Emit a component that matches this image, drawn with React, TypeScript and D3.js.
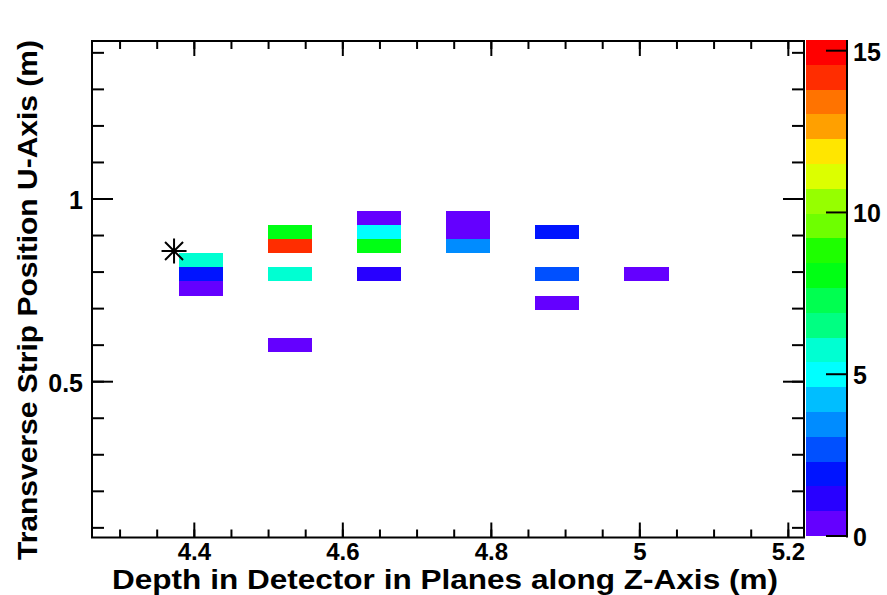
import React from "react";
import * as d3 from "d3";

// Hit strips: plane depth (m), transverse strip position (m), charge
const hitZ = [4.409, 4.409, 4.409, 4.529, 4.529, 4.529, 4.529, 4.649, 4.649, 4.649, 4.649, 4.769, 4.769, 4.769, 4.889, 4.889, 4.889, 5.009];
const hitU = [0.832, 0.794, 0.755, 0.909, 0.871, 0.794, 0.601, 0.948, 0.909, 0.871, 0.794, 0.948, 0.909, 0.871, 0.909, 0.794, 0.716, 0.794];
const hitQ = [5.8, 1.9, 0.4, 8.1, 14.2, 5.7, 0.5, 0.4, 5.0, 8.0, 1.2, 0.5, 0.4, 3.4, 1.8, 2.6, 0.5, 0.5];

// Reconstructed vertex marker
const vertexZ = [4.3727];
const vertexU = [0.8577];

// Axis ticks
const xMajorTicks = [4.4, 4.6, 4.8, 5.0, 5.2];
const xTickLabels = ["4.4", "4.6", "4.8", "5", "5.2"];
const yMajorTicks = [0.5, 1.0];
const yTickLabels = ["0.5", "1"];
const zTicks = [0, 5, 10, 15];
const zTickLabels = ["0", "5", "10", "15"];

// Palette levels, lowest to highest
const paletteColors = [
  "#6400ff", "#2800ff", "#0014ff", "#0050ff", "#008cff",
  "#00beff", "#00ffff", "#00ffd2", "#00ff82", "#00ff50",
  "#00ff14", "#1eff00", "#6eff00", "#96ff00", "#dcff00",
  "#ffe600", "#ffa000", "#ff7300", "#ff2d00", "#ff0000",
];

const xTitle = "Depth in Detector in Planes along Z-Axis (m)";
const yTitle = "Transverse Strip Position U-Axis (m)";

const W = 887;
const H = 595;
const frame = { left: 92, right: 804, top: 41, bottom: 537.5 };
const bar = { left: 806, right: 847 };
const planePitch = 0.0594;
const stripPitch = 0.0386;
const zMax = 15.33;
const font = "'Liberation Sans', Arial, Helvetica, sans-serif";

export default function App() {
  const x = d3.scaleLinear().domain([4.2622, 5.2211]).range([frame.left, frame.right]);
  const y = d3.scaleLinear().domain([0.0736, 1.4324]).range([frame.bottom, frame.top]);
  const z = d3.scaleLinear().domain([0, zMax]).range([frame.bottom - 1.5, frame.top - 1]);
  const nLev = paletteColors.length;
  const levelOf = (v: number) => Math.min(nLev - 1, Math.floor((v / zMax) * nLev));

  const xMinor = d3.range(4.3, 5.22, 0.05).filter((v) => v >= 4.2622 && v <= 5.2211);
  const yMinor = d3.range(0.1, 1.44, 0.1).filter((v) => v >= 0.0736 && v <= 1.4324);

  const cells = hitZ.map((zz, i) => {
    const x0 = x(zz - planePitch / 2);
    const x1 = x(zz + planePitch / 2);
    const y0 = y(hitU[i] + stripPitch / 2);
    const y1 = y(hitU[i] - stripPitch / 2);
    return { x: x0, y: y0, w: x1 - x0, h: y1 - y0, fill: paletteColors[levelOf(hitQ[i])] };
  });

  const levels = d3.range(nLev).map((i) => ({
    y0: z(((i + 1) * zMax) / nLev),
    y1: z((i * zMax) / nLev),
    fill: paletteColors[i],
  }));

  const star = (cx: number, cy: number) => {
    const a = 12.5;
    const b = 9;
    return `M${cx - a},${cy}L${cx + a},${cy}M${cx},${cy - a}L${cx},${cy + a}` +
      `M${cx - b},${cy - b}L${cx + b},${cy + b}M${cx - b},${cy + b}L${cx + b},${cy - b}`;
  };

  const tickStroke = { stroke: "#000", strokeWidth: 2 };

  return (
    <svg
      width={W}
      height={H}
      style={{ position: "absolute", left: 0, top: 0, background: "#fff" }}
      fontFamily={font}
      fontWeight="bold"
    >
      <rect x={0} y={0} width={W} height={H} fill="#fff" />

      {/* histogram cells */}
      <g shapeRendering="crispEdges">
        {cells.map((c, i) => (
          <rect key={i} x={c.x} y={c.y} width={c.w} height={c.h} fill={c.fill} />
        ))}
      </g>

      {/* vertex marker */}
      {vertexZ.map((vz, i) => (
        <path key={i} d={star(x(vz), y(vertexU[i]))} stroke="#000" strokeWidth={2} fill="none" />
      ))}

      {/* colour scale */}
      <g shapeRendering="crispEdges">
        {levels.map((l, i) => (
          <rect key={i} x={bar.left} y={l.y0} width={bar.right - bar.left} height={l.y1 - l.y0} fill={l.fill} />
        ))}
      </g>
      <line x1={bar.right} x2={bar.right} y1={frame.top - 1} y2={frame.bottom} {...tickStroke} />
      {zTicks.map((t, i) => (
        <g key={i}>
          <line x1={bar.right - 21} x2={bar.right} y1={z(t)} y2={z(t)} {...tickStroke} />
          <text x={853} y={z(t) + 10} fontSize={25} textAnchor="start">{zTickLabels[i]}</text>
        </g>
      ))}

      {/* frame */}
      <rect
        x={frame.left}
        y={frame.top}
        width={frame.right - frame.left}
        height={frame.bottom - frame.top}
        fill="none"
        stroke="#000"
        strokeWidth={2}
      />

      {/* x ticks, bottom and top */}
      {xMinor.map((t, i) => (
        <g key={"xm" + i}>
          <line x1={x(t)} x2={x(t)} y1={frame.bottom} y2={frame.bottom - 8} {...tickStroke} />
          <line x1={x(t)} x2={x(t)} y1={frame.top} y2={frame.top + 8} {...tickStroke} />
        </g>
      ))}
      {xMajorTicks.map((t, i) => (
        <g key={"xM" + i}>
          <line x1={x(t)} x2={x(t)} y1={frame.bottom} y2={frame.bottom - 15} {...tickStroke} />
          <line x1={x(t)} x2={x(t)} y1={frame.top} y2={frame.top + 15} {...tickStroke} />
          <text x={x(t)} y={559.5} fontSize={24} textAnchor="middle">{xTickLabels[i]}</text>
        </g>
      ))}

      {/* y ticks, left and right */}
      {yMinor.map((t, i) => (
        <g key={"ym" + i}>
          <line x1={frame.left} x2={frame.left + 12} y1={y(t)} y2={y(t)} {...tickStroke} />
          <line x1={frame.right} x2={frame.right - 12} y1={y(t)} y2={y(t)} {...tickStroke} />
        </g>
      ))}
      {yMajorTicks.map((t, i) => (
        <g key={"yM" + i}>
          <line x1={frame.left} x2={frame.left + 21} y1={y(t)} y2={y(t)} {...tickStroke} />
          <line x1={frame.right} x2={frame.right - 21} y1={y(t)} y2={y(t)} {...tickStroke} />
          <text x={83} y={y(t) + 10} fontSize={25} textAnchor="end">{yTickLabels[i]}</text>
        </g>
      ))}

      {/* axis titles */}
      <text x={445} y={589} fontSize={27} textAnchor="middle" textLength={666} lengthAdjust="spacingAndGlyphs">
        {xTitle}
      </text>
      <text
        transform="translate(37,300) rotate(-90)"
        fontSize={27}
        textAnchor="middle"
        textLength={520}
        lengthAdjust="spacingAndGlyphs"
      >
        {yTitle}
      </text>
    </svg>
  );
}
